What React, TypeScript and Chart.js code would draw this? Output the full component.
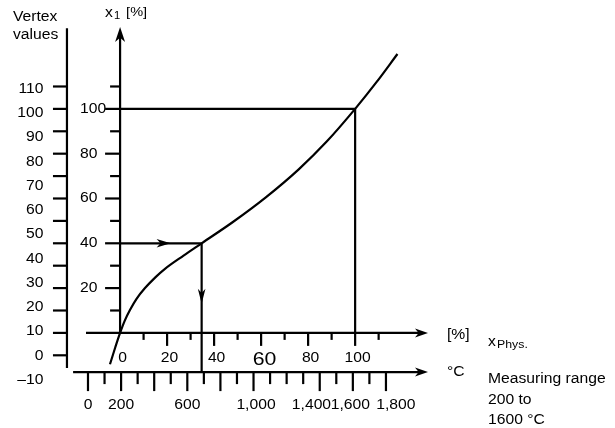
import { useEffect, useRef } from "react";
import { Chart, registerables } from "chart.js";

Chart.register(...registerables);

// ---- data (in the diagram's own units) ----
// characteristic curve: x_Phys [%] -> x1 [%]
const CURVE_X = [-4.3, -2, 0, 2, 4.2, 7, 10.6, 15, 19.1, 27, 34.7, 48, 62, 76, 88, 100, 109, 118];
const CURVE_Y = [-14, -6.3, 0, 5.5, 10.2, 15.2, 20, 24.8, 28.6, 34.5, 40, 49.5, 60.5, 73, 85.5, 100, 111.8, 124.5];

// working points
const WORK_X = 34.7;
const WORK_Y = 40;
const UPPER_X = 100;
const UPPER_Y = 100;

// x1 [%] axis
const X1_TICKS = [10, 20, 30, 40, 50, 60, 70, 80, 90, 100, 110];
const X1_LABELS = [20, 40, 60, 80, 100];

// vertex values axis (tick marks sit on the x1 grid, labels on their own scale)
const VERTEX_TICKS = [-10, 0, 10, 20, 30, 40, 50, 60, 70, 80, 90, 100, 110];
const VERTEX_VALUES = [-10, 0, 10, 20, 30, 40, 50, 60, 70, 80, 90, 100, 110];
const VERTEX_LABELS = ["\u201310", "0", "10", "20", "30", "40", "50", "60", "70", "80", "90", "100", "110"];

// x_Phys [%] axis
const XPHYS_TICKS = [10, 20, 30, 40, 50, 60, 70, 80, 90, 100, 110];
const XPHYS_LABELS = [0, 20, 40, 60, 80, 100];
const XPHYS_BIG_LABEL = 60;

// temperature axis [°C]
const CELSIUS_TICKS = [0, 100, 200, 300, 400, 500, 600, 700, 800, 900, 1000, 1100, 1200, 1300, 1400, 1500, 1600, 1700, 1800];
const CELSIUS_MAJOR = [0, 200, 400, 600, 800, 1000, 1400, 1600, 1800];
const CELSIUS_LABELS = ["0", "200", "600", "1,000", "1,400", "1,600", "1,800"];
const CELSIUS_LABEL_AT = [0, 200, 600, 1015, 1350, 1585, 1860];

// where the auxiliary axes sit (in scale units)
const VERTEX_AXIS_AT = -22.6; // x units
const VERTEX_AXIS_RANGE = [-15.7, 136]; // y units
const CELSIUS_AXIS_AT = -17.5; // y units
const CELSIUS_AXIS_START = -90; // °C
const ARROW_RIGHT_AT = 21.5; // x units, on the 40 % guide
const ARROW_DOWN_AT = 13; // y units, on the working point drop line

const FONT = '"Liberation Sans", Arial, Helvetica, sans-serif';
const SX = 1.12;

function txt(
  ctx: CanvasRenderingContext2D,
  s: string,
  x: number,
  y: number,
  size: number,
  align: CanvasTextAlign = "left",
  baseline: CanvasTextBaseline = "middle"
) {
  ctx.save();
  ctx.font = `${size}px ${FONT}`;
  ctx.textAlign = align;
  ctx.textBaseline = baseline;
  ctx.translate(x, y);
  ctx.scale(SX, 1);
  ctx.fillText(s, 0, 0);
  ctx.restore();
}

function arrow(ctx: CanvasRenderingContext2D, tx: number, ty: number, dx: number, dy: number, len = 14, half = 4.5) {
  const px = -dy;
  const py = dx;
  const bx = tx - dx * len;
  const by = ty - dy * len;
  const nx = tx - dx * len * 0.72;
  const ny = ty - dy * len * 0.72;
  ctx.beginPath();
  ctx.moveTo(tx, ty);
  ctx.lineTo(bx + px * half, by + py * half);
  ctx.lineTo(nx, ny);
  ctx.lineTo(bx - px * half, by - py * half);
  ctx.closePath();
  ctx.fill();
}

const diagramPlugin = {
  id: "diagram",
  beforeDatasetsDraw(chart: any) {
    const { ctx, scales } = chart;
    const { x, y, xc, yv } = scales;
    const X = (v: number) => x.getPixelForValue(v);
    const Y = (v: number) => y.getPixelForValue(v);
    const line = (a: number, b: number, c: number, d: number) => {
      ctx.beginPath();
      ctx.moveTo(a, b);
      ctx.lineTo(c, d);
      ctx.stroke();
    };
    ctx.save();
    ctx.strokeStyle = "#000";
    ctx.fillStyle = "#000";
    ctx.lineWidth = 2.2;
    ctx.lineCap = "butt";

    // vertex values axis
    const vx = X(VERTEX_AXIS_AT);
    line(vx, Y(VERTEX_AXIS_RANGE[1]), vx, Y(VERTEX_AXIS_RANGE[0]));
    VERTEX_TICKS.forEach((t) => line(vx - 14, Y(t), vx + 1, Y(t)));
    VERTEX_VALUES.forEach((v, i) => txt(ctx, VERTEX_LABELS[i], vx - 23.5, yv.getPixelForValue(v), 14, "right"));

    // x1 axis
    const x0 = X(0);
    const yTop = y.getPixelForValue(y.max) + 1;
    line(x0, Y(0), x0, yTop + 8);
    X1_TICKS.forEach((t) => {
      const long = X1_LABELS.includes(t);
      line(x0 - (long ? 15 : 10), Y(t), x0, Y(t));
    });
    X1_LABELS.forEach((v) => txt(ctx, String(v), x0 - 40, Y(v), 14, "left"));

    // x_Phys axis
    const y0 = Y(0);
    line(X(x.min), y0, X(x.max) - 8, y0);
    XPHYS_TICKS.forEach((t) => {
      const long = t % 20 === 0;
      line(X(t), y0, X(t), y0 + (long ? 13 : 7));
    });
    XPHYS_LABELS.forEach((v) => {
      if (v === XPHYS_BIG_LABEL) txt(ctx, String(v), X(v) + 3.5, y0 + 27, 19, "center");
      else txt(ctx, String(v), X(v) + 2.5, y0 + 25, 14, "center");
    });

    // temperature axis
    const yc = Y(CELSIUS_AXIS_AT);
    line(xc.getPixelForValue(CELSIUS_AXIS_START), yc, X(x.max) - 8, yc);
    CELSIUS_TICKS.forEach((t) => {
      const long = CELSIUS_MAJOR.includes(t);
      const px = xc.getPixelForValue(t);
      line(px, yc, px, yc + (long ? 19 : 12));
    });
    CELSIUS_LABELS.forEach((s, i) => txt(ctx, s, xc.getPixelForValue(CELSIUS_LABEL_AT[i]), yc + 33, 14, "center"));

    // texts
    txt(ctx, "Vertex", vx - 54, Y(0) - 315.5, 14, "left");
    txt(ctx, "values", vx - 54, Y(0) - 297.5, 14, "left");
    txt(ctx, "x", x0 - 15, 17, 14, "left", "alphabetic");
    txt(ctx, "1", x0 - 6, 19, 10, "left", "alphabetic");
    txt(ctx, "[%]", x0 + 6, 16, 13, "left", "alphabetic");

    const xr = X(x.max);
    txt(ctx, "[%]", xr + 19, y0 + 2, 14, "left");
    txt(ctx, "x", xr + 60, y0 + 13, 14, "left", "alphabetic");
    txt(ctx, "Phys.", xr + 69, y0 + 15, 11, "left", "alphabetic");
    txt(ctx, "\u00b0C", xr + 19, yc, 14, "left");
    txt(ctx, "Measuring range", xr + 60, yc + 11, 14, "left", "alphabetic");
    txt(ctx, "200 to", xr + 60, yc + 31.5, 14, "left", "alphabetic");
    txt(ctx, "1600 \u00b0C", xr + 60, yc + 51.5, 14, "left", "alphabetic");
    ctx.restore();
  },
  afterDatasetsDraw(chart: any) {
    const { ctx, scales } = chart;
    const { x, y } = scales;
    const X = (v: number) => x.getPixelForValue(v);
    const Y = (v: number) => y.getPixelForValue(v);
    ctx.save();
    ctx.fillStyle = "#000";
    arrow(ctx, X(x.max), Y(0), 1, 0, 13, 4.5);
    arrow(ctx, X(x.max), Y(CELSIUS_AXIS_AT), 1, 0, 13, 4.5);
    arrow(ctx, X(0), y.getPixelForValue(y.max) + 1, 0, -1, 15, 5);
    arrow(ctx, X(ARROW_RIGHT_AT), Y(WORK_Y), 1, 0, 14, 4.2);
    arrow(ctx, X(WORK_X), Y(ARROW_DOWN_AT), 0, 1, 15, 3.8);
    ctx.restore();
  },
};

export default function App() {
  const ref = useRef<HTMLCanvasElement>(null);
  useEffect(() => {
    const lineStyle = {
      showLine: true,
      borderColor: "#000",
      borderWidth: 2.2,
      pointRadius: 0,
      pointHoverRadius: 0,
      fill: false,
    };
    const chart = new Chart(ref.current as HTMLCanvasElement, {
      type: "scatter",
      data: {
        datasets: [
          {
            ...lineStyle,
            label: "x1",
            data: CURVE_X.map((v, i) => ({ x: v, y: CURVE_Y[i] })),
            cubicInterpolationMode: "monotone",
          },
          {
            ...lineStyle,
            label: "guide 40",
            tension: 0,
            data: [
              { x: 0, y: WORK_Y },
              { x: WORK_X, y: WORK_Y },
              { x: WORK_X, y: CELSIUS_AXIS_AT },
            ],
          },
          {
            ...lineStyle,
            label: "guide 100",
            tension: 0,
            data: [
              { x: 0, y: UPPER_Y },
              { x: UPPER_X, y: UPPER_Y },
              { x: UPPER_X, y: 0 },
            ],
          },
        ],
      } as any,
      options: {
        responsive: false,
        animation: false,
        events: [],
        layout: { padding: { left: 86, right: 187, top: 26, bottom: 5.5 } },
        plugins: { legend: { display: false }, tooltip: { enabled: false } },
        scales: {
          x: { type: "linear", min: -14.5, max: 131, display: false },
          y: { type: "linear", min: -40, max: 137, display: false },
          xc: { type: "linear", axis: "x", position: "bottom", min: -12, max: 2054, display: false },
          yv: { type: "linear", axis: "y", position: "left", min: -27.5, max: 136, display: false },
        },
      } as any,
      plugins: [diagramPlugin],
    });
    return () => chart.destroy();
  }, []);
  return (
    <div style={{ position: "absolute", left: 0, top: 0, width: 615, height: 428, background: "#fff" }}>
      <canvas ref={ref} width={615} height={428} style={{ display: "block" }} />
    </div>
  );
}
